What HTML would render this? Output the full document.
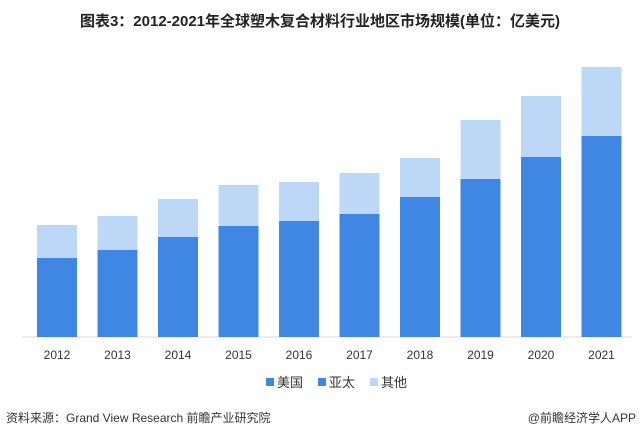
<!DOCTYPE html>
<html><head><meta charset="utf-8"><style>
body{margin:0;width:640px;height:437px;background:#fff;overflow:hidden;font-family:"Liberation Sans","Noto Sans CJK SC",sans-serif;}
</style></head><body>
<svg width="640" height="437" xmlns="http://www.w3.org/2000/svg" style="font-family:'Liberation Sans','Noto Sans CJK SC',sans-serif">
<text x="320" y="26" text-anchor="middle" font-size="15" font-weight="bold" fill="#222">图表3：2012-2021年全球塑木复合材料行业地区市场规模(单位：亿美元)</text>
<line x1="22" y1="337" x2="632" y2="337" stroke="#d9d9d9" stroke-width="1"/>
<g fill="#bdd7f6">
<rect x="37" y="225" width="40" height="33"/>
<rect x="97.5" y="216" width="40" height="34"/>
<rect x="158" y="199" width="40" height="38"/>
<rect x="218.5" y="185" width="40" height="41"/>
<rect x="279" y="182" width="40" height="39"/>
<rect x="339.5" y="173" width="40" height="41"/>
<rect x="400" y="158" width="40" height="39"/>
<rect x="460.5" y="120" width="40" height="59"/>
<rect x="521" y="96" width="40" height="61"/>
<rect x="581.5" y="67" width="40" height="69"/>
</g>
<g fill="#3f87e2">
<rect x="37" y="258" width="40" height="79"/>
<rect x="97.5" y="250" width="40" height="87"/>
<rect x="158" y="237" width="40" height="100"/>
<rect x="218.5" y="226" width="40" height="111"/>
<rect x="279" y="221" width="40" height="116"/>
<rect x="339.5" y="214" width="40" height="123"/>
<rect x="400" y="197" width="40" height="140"/>
<rect x="460.5" y="179" width="40" height="158"/>
<rect x="521" y="157" width="40" height="180"/>
<rect x="581.5" y="136" width="40" height="201"/>
</g>
<g font-size="12" fill="#333" text-anchor="middle">
<text x="57" y="359">2012</text>
<text x="117.5" y="359">2013</text>
<text x="178" y="359">2014</text>
<text x="238.5" y="359">2015</text>
<text x="299" y="359">2016</text>
<text x="359.5" y="359">2017</text>
<text x="420" y="359">2018</text>
<text x="480.5" y="359">2019</text>
<text x="541" y="359">2020</text>
<text x="601.5" y="359">2021</text>
</g>
<rect x="266" y="378" width="8" height="8" fill="#3f87e2"/>
<text x="277" y="387" font-size="13" fill="#333">美国</text>
<rect x="318" y="378" width="8" height="8" fill="#3f87e2"/>
<text x="329" y="387" font-size="13" fill="#333">亚太</text>
<rect x="370" y="378" width="8" height="8" fill="#bdd7f6"/>
<text x="381" y="387" font-size="13" fill="#333">其他</text>
<text x="6" y="422" font-size="12" fill="#333">资料来源：Grand View Research 前瞻产业研究院</text>
<text x="636" y="422" text-anchor="end" font-size="12" fill="#333">@前瞻经济学人APP</text>
</svg>
</body></html>
